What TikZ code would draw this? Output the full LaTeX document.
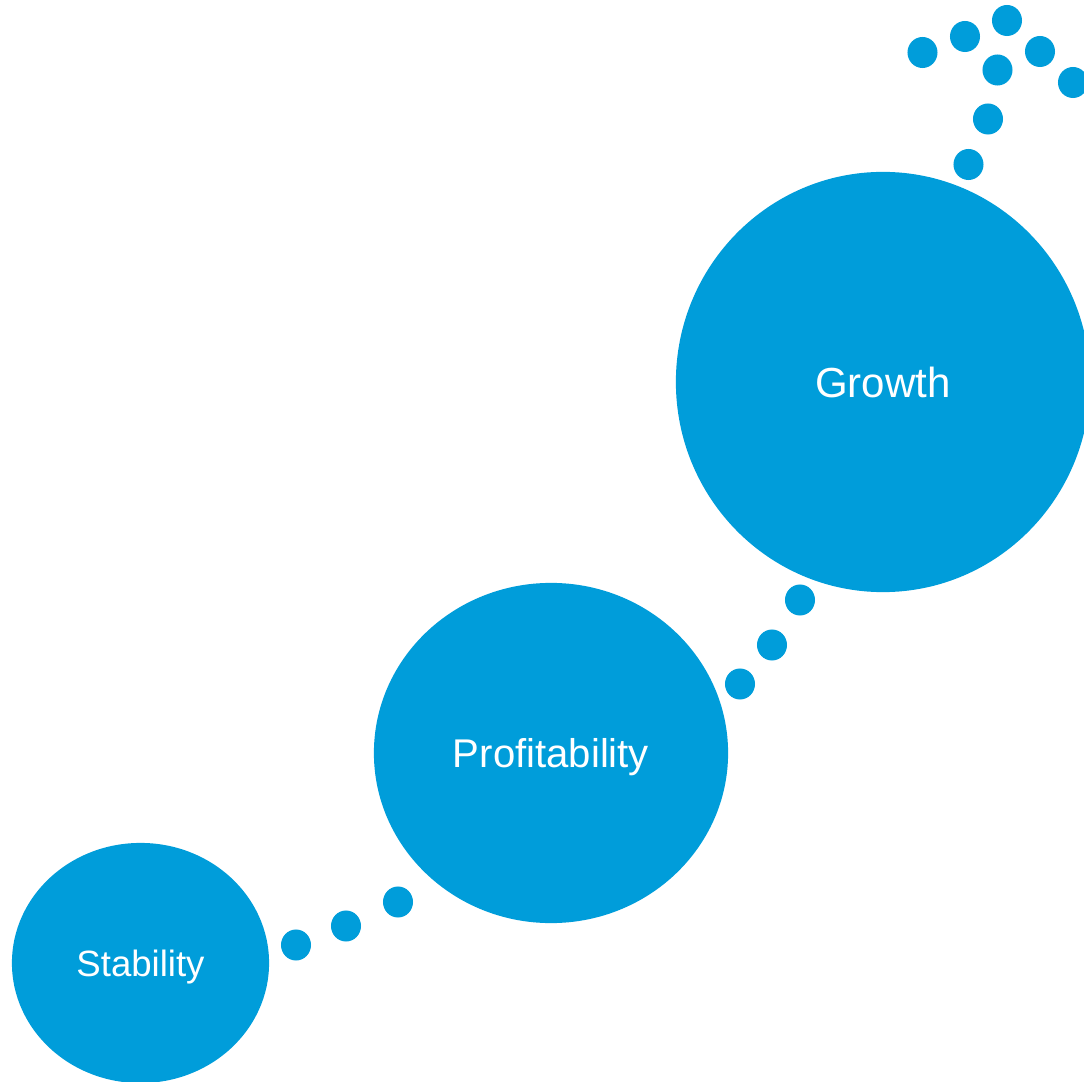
\documentclass[tikz,border=0pt]{standalone}
\usepackage{fontspec}
\setmainfont{Liberation Sans}
\usepackage{tikz}
\usetikzlibrary{shapes.geometric}
\definecolor{stageblue}{RGB}{0,157,218}
\tikzset{
    stage/.style = {shape=ellipse,fill=stageblue,text=white,inner sep=0,text depth=0pt},
    pathdot/.style = {shape=ellipse,fill=stageblue,inner sep=0,minimum width=0.30cm,minimum height=0.31cm}
}

\begin{document}
\begin{tikzpicture}[x=0.01cm,y=-0.01cm]
        \useasboundingbox (0,0) rectangle (1084,1082);
        \clip (0,0) rectangle (1084,1082);
        % Stages
        \node[stage,minimum width=2.57cm,minimum height=2.40cm,font=\fontsize{10.4}{12}\selectfont] (stab) at (140.5,963) {Stability};
        \node[stage,minimum width=3.54cm,minimum height=3.40cm,font=\fontsize{11.4}{13}\selectfont] (prof) at (551,753) {Profitability};
        \node[stage,minimum width=4.14cm,minimum height=4.20cm,font=\fontsize{11.95}{14}\selectfont] (grow) at (883,382) {Growth};
        % Dots
        \foreach \name/\x/\y in {sp1/296/945,sp2/346/926,sp3/398/902,
                                 pg1/740/684,pg2/772/645,pg3/800/600,
                                 g1/968.5/164.5,g2/988/119,g3/997.5/70,g4/1007/20.5,
                                 g5/965/36.5,g6/922.5/52.5,g7/1040/51.5,g8/1073/82.5}
            \node[pathdot] (\name) at (\x,\y) {};
    \end{tikzpicture}
\end{document}
